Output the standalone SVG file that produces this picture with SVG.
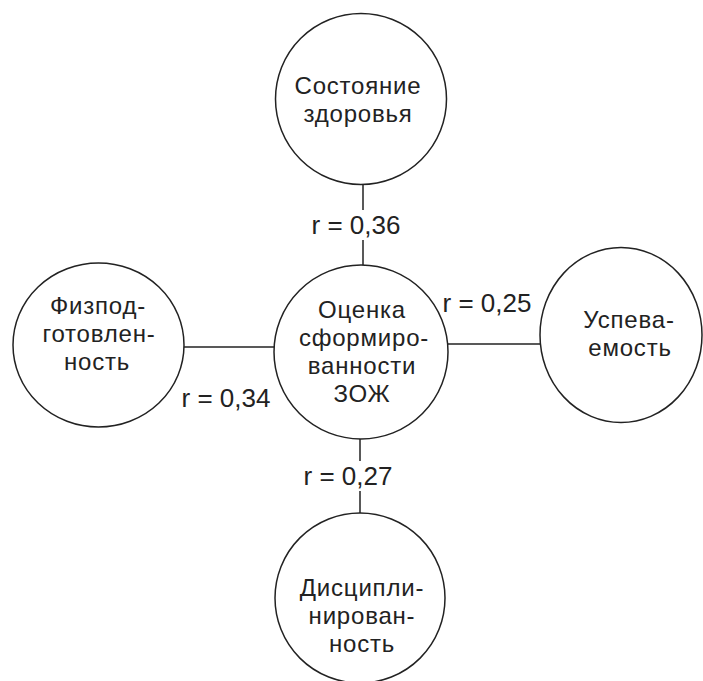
<svg xmlns="http://www.w3.org/2000/svg" width="703" height="681" viewBox="0 0 703 681">
<style>
.node{fill:#fff;stroke:#222;stroke-width:1.5}
.t{font-family:"Liberation Sans",Arial,sans-serif;font-size:24px;letter-spacing:0.8px;fill:#222;text-anchor:middle}
.l{font-family:"Liberation Sans",Arial,sans-serif;font-size:26px;fill:#222;text-anchor:middle}
.edge{stroke:#222;stroke-width:1.5;fill:none}
</style>
<rect width="703" height="681" fill="#fff"/>
<g id="connectors">
<line class="edge" x1="363" y1="185" x2="363" y2="265"/>
<line class="edge" x1="184" y1="347" x2="274" y2="347"/>
<line class="edge" x1="447" y1="344" x2="540" y2="344"/>
<line class="edge" x1="360" y1="439" x2="360" y2="513"/>
<rect x="306" y="210" width="100" height="30" fill="#fff"/>
<text class="l" x="356" y="234">r = 0,36</text>
<text class="l" x="487" y="312">r = 0,25</text>
<text class="l" x="226" y="407">r = 0,34</text>
<rect x="299" y="461" width="98" height="30" fill="#fff"/>
<text class="l" x="348" y="485">r = 0,27</text>
</g>
<g id="health">
<circle class="node" cx="361" cy="99" r="85.5"/>
<text class="t" x="358" y="94">Состояние</text>
<text class="t" x="358" y="122">здоровья</text>
</g>
<g id="zozh">
<circle class="node" cx="361" cy="352" r="87"/>
<text class="t" x="362" y="318">Оценка</text>
<text class="t" x="364" y="346">сформиро-</text>
<text class="t" x="362" y="374">ванности</text>
<text class="t" x="362" y="402">ЗОЖ</text>
</g>
<g id="fitness">
<ellipse class="node" cx="98.5" cy="345" rx="85.5" ry="82"/>
<text class="t" x="98" y="314">Физпод-</text>
<text class="t" x="99" y="342">готовлен-</text>
<text class="t" x="97" y="370">ность</text>
</g>
<g id="progress">
<ellipse class="node" cx="621" cy="335" rx="81" ry="87.5"/>
<text class="t" x="629" y="328">Успева-</text>
<text class="t" x="630" y="356">емость</text>
</g>
<g id="discipline">
<circle class="node" cx="360" cy="598" r="85"/>
<text class="t" x="362" y="596">Дисципли-</text>
<text class="t" x="362" y="624">нирован-</text>
<text class="t" x="362" y="652">ность</text>
</g>
</svg>
